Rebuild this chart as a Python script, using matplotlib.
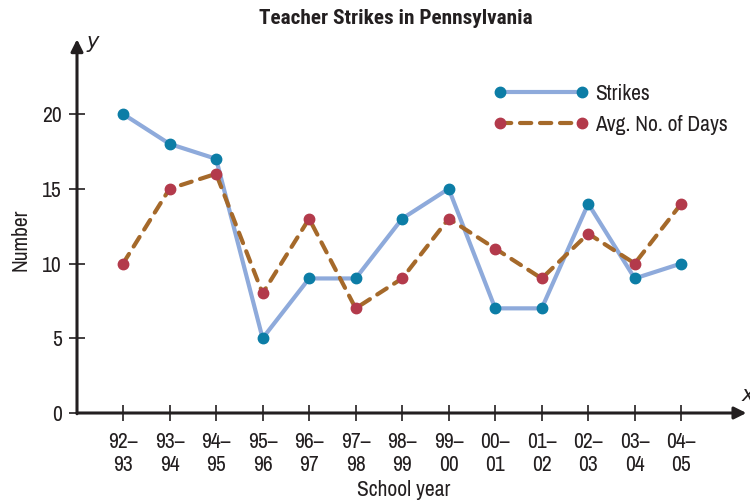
"""Line chart of teacher strikes in Pennsylvania by school year."""

import matplotlib
matplotlib.use('Agg')
import matplotlib.pyplot as plt
from matplotlib.lines import Line2D

plt.rcParams['font.family'] = ['Archivo Narrow', 'DejaVu Sans']

years = ['92–\n93', '93–\n94', '94–\n95', '95–\n96', '96–\n97', '97–\n98', '98–\n99',
         '99–\n00', '00–\n01', '01–\n02', '02–\n03', '03–\n04', '04–\n05']
strikes = [20, 18, 17, 5, 9, 9, 13, 15, 7, 7, 14, 9, 10]
avg_days = [10, 15, 16, 8, 13, 7, 9, 13, 11, 9, 12, 10, 14]

blue_line = '#8eaadb'
blue_dot = '#0c7da6'
brown_line = '#a5692a'
red_dot = '#b33a4b'
ink = '#231f20'
dash = (0, (2.7, 2.1))

fig = plt.figure(figsize=(7.5, 5.03), dpi=100)
ax = fig.add_axes([77 / 750, 90 / 503, 668 / 750, 373 / 503])

x = list(range(len(years)))
ax.plot(x, strikes, color=blue_line, lw=3.0, zorder=2)
ax.plot(x, strikes, ls='none', marker='o', ms=7.5, color=blue_dot, zorder=3)
ax.plot(x, avg_days, color=brown_line, lw=3.0, ls=dash, dash_capstyle='round', zorder=2)
ax.plot(x, avg_days, ls='none', marker='o', ms=7.5, color=red_dot, zorder=3)

ax.set_xlim(-0.99, 13.37)
ax.set_ylim(0, 24.95)

for s in ax.spines.values():
    s.set_visible(False)

# axes drawn as arrows
ax.annotate('', xy=(13.4, 0), xytext=(-0.99, 0), xycoords='data',
            arrowprops=dict(arrowstyle='-|>', color=ink, lw=2.2,
                            mutation_scale=18, shrinkA=0, shrinkB=0),
            annotation_clip=False)
ax.annotate('', xy=(-0.99, 25.0), xytext=(-0.99, -0.05), xycoords='data',
            arrowprops=dict(arrowstyle='-|>', color=ink, lw=2.2,
                            mutation_scale=18, shrinkA=0, shrinkB=0),
            annotation_clip=False)

ax.set_xticks(x)
ax.set_xticklabels(years, fontsize=15.5, color=ink, linespacing=1.15)
ax.set_yticks([0, 5, 10, 15, 20])
ax.set_yticklabels(['0', '5', '10', '15', '20'], fontsize=15.5, color=ink)
ax.tick_params(axis='both', direction='inout', length=12, width=1.2, color=ink)
ax.tick_params(axis='x', pad=8)
ax.tick_params(axis='y', pad=5)

fig.text(93 / 750, 1 - 42 / 503, 'y', fontsize=15, style='italic', color=ink,
         family='DejaVu Sans', va='center', ha='center')
fig.text(742 / 750, 1 - 395 / 503, 'x', fontsize=15, style='italic', color=ink,
         family='DejaVu Sans', va='center', ha='left')

fig.text(396 / 750, 1 - 18 / 503, 'Teacher Strikes in Pennsylvania', fontsize=15.3,
         fontweight='bold', color=ink, family=['Roboto Condensed', 'Fira Sans Condensed'],
         ha='center', va='center')
fig.text(20 / 750, 1 - 240 / 503, 'Number', rotation=90, fontsize=15.5, color=ink,
         ha='center', va='center')
fig.text(404 / 750, 1 - 490 / 503, 'School year', fontsize=15.5, color=ink,
         ha='center', va='center')

handles = [
    Line2D([], [], color=blue_line, lw=3.0, marker='o', ms=7.5,
           markerfacecolor=blue_dot, markeredgecolor=blue_dot),
    Line2D([], [], color=brown_line, lw=3.0, ls=dash, dash_capstyle='round',
           marker='o', ms=7.5, markerfacecolor=red_dot, markeredgecolor=red_dot),
]
ax.legend(handles, ['Strikes', 'Avg. No. of Days'], numpoints=2, frameon=False,
          fontsize=15.5, handlelength=4.4, handletextpad=0.3, labelspacing=0.5,
          loc='upper left', bbox_to_anchor=(0.595, 0.934), labelcolor=ink)

fig.savefig('out.png', dpi=100)
